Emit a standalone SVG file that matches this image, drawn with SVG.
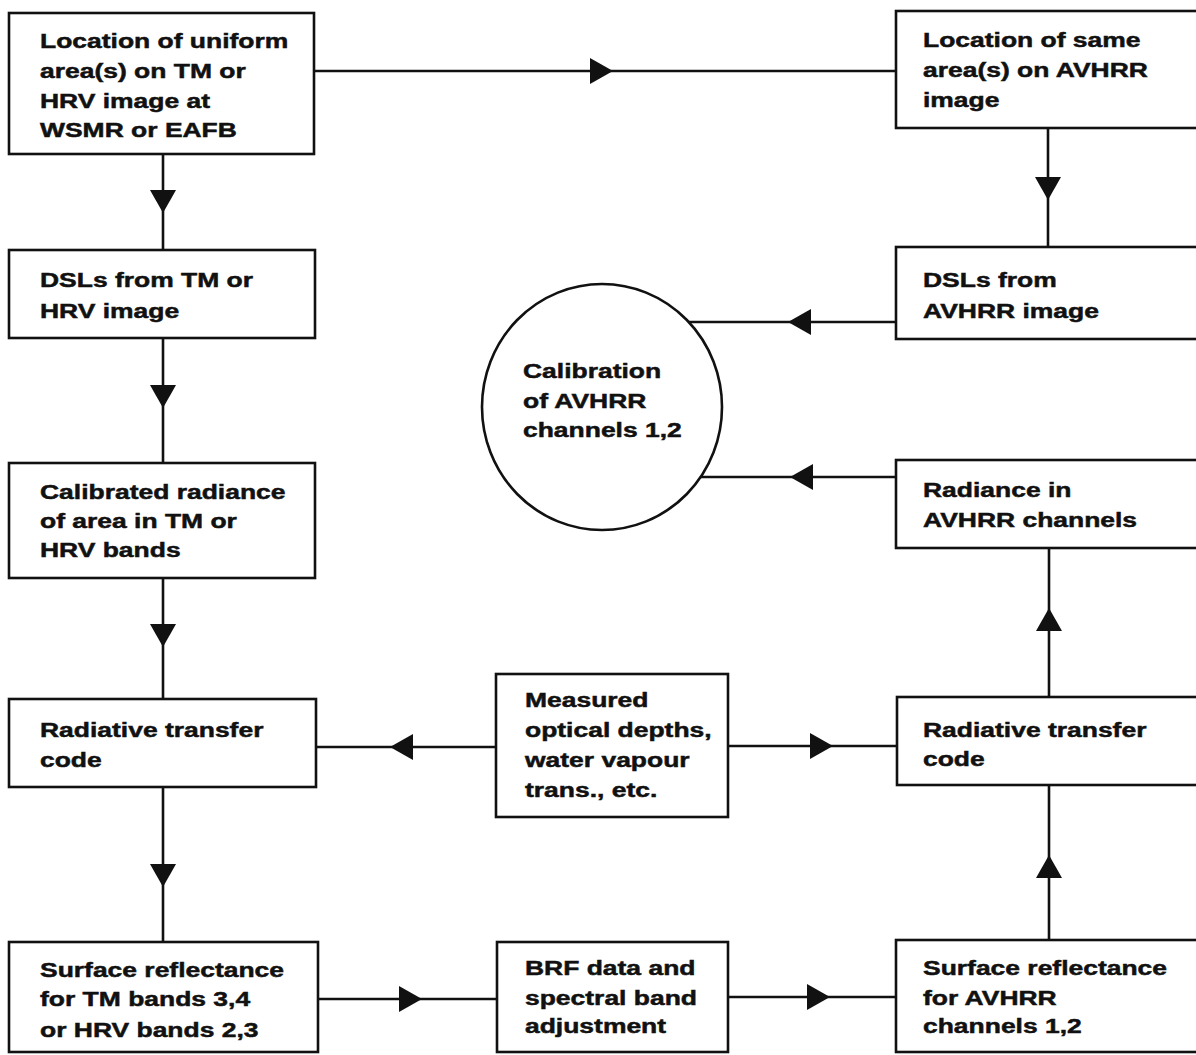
<svg xmlns="http://www.w3.org/2000/svg" xmlns:xlink="http://www.w3.org/1999/xlink" width="1196" height="1055" viewBox="0 0 1196 1055">
<style>
.box{fill:#fff;stroke:#111;stroke-width:2.6}
.ln{stroke:#111;stroke-width:2.6;fill:none}
.t{font-family:"Liberation Sans",Arial,sans-serif;font-weight:bold;font-size:21px;fill:#111;stroke:#111;stroke-width:0.5}
</style>
<defs>
<path id="ah" d="M0,0 L-23,-13 L-23,13 Z" fill="#111"/>
</defs>
<rect width="1196" height="1055" fill="#fff"/>
<g id="connectors">
<line class="ln" x1="315" y1="71" x2="896" y2="71"/><use xlink:href="#ah" href="#ah" transform="translate(613,71)"/>
<line class="ln" x1="163" y1="154" x2="163" y2="250"/><use xlink:href="#ah" href="#ah" transform="translate(163,213) rotate(90)"/>
<line class="ln" x1="1048" y1="128" x2="1048" y2="247"/><use xlink:href="#ah" href="#ah" transform="translate(1048,200) rotate(90)"/>
<line class="ln" x1="163" y1="338" x2="163" y2="463"/><use xlink:href="#ah" href="#ah" transform="translate(163,408) rotate(90)"/>
<line class="ln" x1="896" y1="322" x2="689" y2="322"/><use xlink:href="#ah" href="#ah" transform="translate(788,322) rotate(180)"/>
<line class="ln" x1="896" y1="477" x2="701" y2="477"/><use xlink:href="#ah" href="#ah" transform="translate(790,477) rotate(180)"/>
<line class="ln" x1="163" y1="578" x2="163" y2="699"/><use xlink:href="#ah" href="#ah" transform="translate(163,647) rotate(90)"/>
<line class="ln" x1="163" y1="788" x2="163" y2="942"/><use xlink:href="#ah" href="#ah" transform="translate(163,887) rotate(90)"/>
<line class="ln" x1="497" y1="747" x2="316" y2="747"/><use xlink:href="#ah" href="#ah" transform="translate(390,747) rotate(180)"/>
<line class="ln" x1="728" y1="746" x2="897" y2="746"/><use xlink:href="#ah" href="#ah" transform="translate(833,746)"/>
<line class="ln" x1="318" y1="999" x2="497" y2="999"/><use xlink:href="#ah" href="#ah" transform="translate(422,999)"/>
<line class="ln" x1="728" y1="997" x2="896" y2="997"/><use xlink:href="#ah" href="#ah" transform="translate(830,997)"/>
<line class="ln" x1="1049" y1="940" x2="1049" y2="785"/><use xlink:href="#ah" href="#ah" transform="translate(1049,855) rotate(-90)"/>
<line class="ln" x1="1049" y1="696" x2="1049" y2="548"/><use xlink:href="#ah" href="#ah" transform="translate(1049,608) rotate(-90)"/>
</g>
<g id="n-loc-tm">
<rect class="box" x="9" y="13" width="305" height="141"/>
<text class="t" transform="translate(40,48) scale(1.26,1)"><tspan x="0">Location of uniform</tspan><tspan x="0" dy="30">area(s) on TM or</tspan><tspan x="0" dy="30">HRV image at</tspan><tspan x="0" dy="29">WSMR or EAFB</tspan></text>
</g>
<g id="n-loc-avhrr">
<rect class="box" x="896" y="11" width="310" height="117"/>
<text class="t" transform="translate(923,47) scale(1.26,1)"><tspan x="0">Location of same</tspan><tspan x="0" dy="30">area(s) on AVHRR</tspan><tspan x="0" dy="30">image</tspan></text>
</g>
<g id="n-dsl-tm">
<rect class="box" x="9" y="250" width="306" height="88"/>
<text class="t" transform="translate(40,287) scale(1.26,1)"><tspan x="0">DSLs from TM or</tspan><tspan x="0" dy="31">HRV image</tspan></text>
</g>
<g id="n-dsl-avhrr">
<rect class="box" x="896" y="247" width="310" height="92"/>
<text class="t" transform="translate(923,287) scale(1.26,1)"><tspan x="0">DSLs from</tspan><tspan x="0" dy="31">AVHRR image</tspan></text>
</g>
<g id="n-calibration">
<ellipse class="box" cx="602" cy="407" rx="120" ry="123"/>
<text class="t" transform="translate(523,378) scale(1.26,1)"><tspan x="0">Calibration</tspan><tspan x="0" dy="30">of AVHRR</tspan><tspan x="0" dy="29">channels 1,2</tspan></text>
</g>
<g id="n-cal-rad">
<rect class="box" x="9" y="463" width="306" height="115"/>
<text class="t" transform="translate(40,499) scale(1.26,1)"><tspan x="0">Calibrated radiance</tspan><tspan x="0" dy="29">of area in TM or</tspan><tspan x="0" dy="29">HRV bands</tspan></text>
</g>
<g id="n-rad-avhrr">
<rect class="box" x="896" y="460" width="310" height="88"/>
<text class="t" transform="translate(923,497) scale(1.26,1)"><tspan x="0">Radiance in</tspan><tspan x="0" dy="30">AVHRR channels</tspan></text>
</g>
<g id="n-rtc-left">
<rect class="box" x="9" y="699" width="307" height="88"/>
<text class="t" transform="translate(40,737) scale(1.26,1)"><tspan x="0">Radiative transfer</tspan><tspan x="0" dy="30">code</tspan></text>
</g>
<g id="n-measured">
<rect class="box" x="496" y="674" width="232" height="143"/>
<text class="t" transform="translate(525,707) scale(1.26,1)"><tspan x="0">Measured</tspan><tspan x="0" dy="30">optical depths,</tspan><tspan x="0" dy="30">water vapour</tspan><tspan x="0" dy="30">trans., etc.</tspan></text>
</g>
<g id="n-rtc-right">
<rect class="box" x="897" y="697" width="310" height="88"/>
<text class="t" transform="translate(923,737) scale(1.26,1)"><tspan x="0">Radiative transfer</tspan><tspan x="0" dy="29">code</tspan></text>
</g>
<g id="n-sr-tm">
<rect class="box" x="9" y="942" width="309" height="110"/>
<text class="t" transform="translate(40,977) scale(1.26,1)"><tspan x="0">Surface reflectance</tspan><tspan x="0" dy="29">for TM bands 3,4</tspan><tspan x="0" dy="31">or HRV bands 2,3</tspan></text>
</g>
<g id="n-brf">
<rect class="box" x="497" y="942" width="231" height="110"/>
<text class="t" transform="translate(525,975) scale(1.26,1)"><tspan x="0">BRF data and</tspan><tspan x="0" dy="30">spectral band</tspan><tspan x="0" dy="28">adjustment</tspan></text>
</g>
<g id="n-sr-avhrr">
<rect class="box" x="896" y="940" width="310" height="112"/>
<text class="t" transform="translate(923,975) scale(1.26,1)"><tspan x="0">Surface reflectance</tspan><tspan x="0" dy="30">for AVHRR</tspan><tspan x="0" dy="28">channels 1,2</tspan></text>
</g>
</svg>
